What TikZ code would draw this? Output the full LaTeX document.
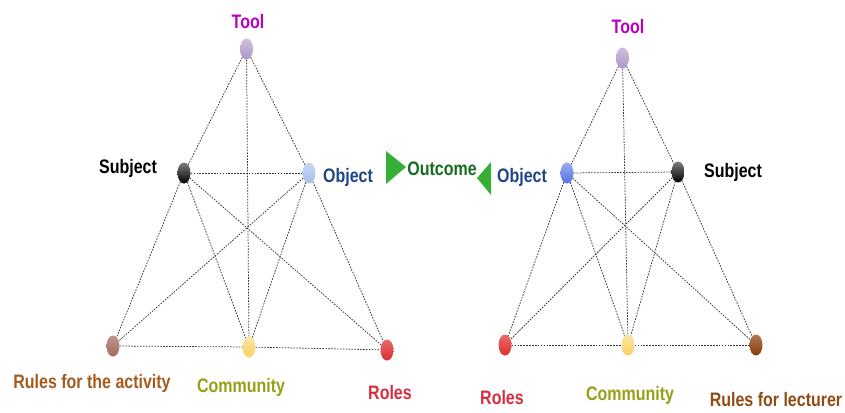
\documentclass[tikz,border=0pt]{standalone}
\usepackage{fontspec}
\setmainfont[FakeStretch=0.82]{Liberation Sans}
\usetikzlibrary{shapes.geometric}
\definecolor{ctool}{RGB}{185,0,190}
\definecolor{cobj}{RGB}{30,70,135}
\definecolor{cout}{RGB}{20,110,30}
\definecolor{crulesa}{RGB}{165,90,30}
\definecolor{ccomm}{RGB}{150,160,20}
\definecolor{croles}{RGB}{215,45,65}
\definecolor{crulesl}{RGB}{145,75,20}
\definecolor{ftool}{RGB}{175,150,200}
\definecolor{fobjl}{RGB}{165,190,235}
\definecolor{fobjr}{RGB}{85,115,230}
\definecolor{frulesa}{RGB}{165,105,95}
\definecolor{fcomm}{RGB}{250,210,100}
\definecolor{froles}{RGB}{220,45,45}
\definecolor{frulesl}{RGB}{140,60,10}
\definecolor{fgreen}{RGB}{55,175,55}
\definecolor{edgec}{RGB}{50,50,50}
\tikzset{
  dot/.style={ellipse, inner sep=0pt, minimum width=13pt, minimum height=21pt},
  lab/.style={font=\fontsize{19.5}{21}\selectfont\bfseries, inner sep=0pt},
  link/.style={draw=edgec, line width=0.75pt, dash pattern=on 1.6pt off 1.3pt},
  arrowtri/.style={fill=fgreen, draw=none}
}
\begin{document}
\begin{tikzpicture}[x=1pt,y=-1pt]
\path[use as bounding box] (0,0) rectangle (845,412);
% ---------- left triangle ----------
\node[dot, top color=ftool!60!white, bottom color=ftool] (lT) at (246.5,49) {};
\node[dot, top color=gray, bottom color=black] (lS) at (184,173) {};
\node[dot, top color=fobjl!60!white, bottom color=fobjl] (lO) at (309,173) {};
\node[dot, top color=frulesa!70!white, bottom color=frulesa] (lR) at (113,346) {};
\node[dot, top color=fcomm!60!white, bottom color=fcomm] (lC) at (249,347) {};
\node[dot, top color=froles!70!white, bottom color=froles] (lRo) at (387,350) {};
\draw[link] (lT) -- (lS);
\draw[link] (lT) -- (lO);
\draw[link] (lT) -- (lC);
\draw[link] (lS) -- (lO);
\draw[link] (lS) -- (lR);
\draw[link] (lS) -- (lC);
\draw[link] (lS) -- (lRo);
\draw[link] (lO) -- (lR);
\draw[link] (lO) -- (lC);
\draw[link] (lO) -- (lRo);
\draw[link] (lR) -- (lC);
\draw[link] (lC) -- (lRo);
\node[lab, text=ctool] (lTl) at (248,22) {Tool};
\node[lab, text=black] (lSl) at (128,168) {Subject};
\node[lab, text=cobj] (lOl) at (348,177) {Object};
\node[lab, text=crulesa] (lRl) at (92,383) {Rules for the activity};
\node[lab, text=ccomm] (lCl) at (241,387) {Community};
\node[lab, text=croles] (lRol) at (390,393) {Roles};
% ---------- middle ----------
\node[lab, text=cout] (out) at (442,169) {Outcome};
\fill[fgreen] (386,151) -- (386,184) -- (406,167) -- cycle;
\fill[fgreen] (491,162) -- (491,195) -- (477,178) -- cycle;
% ---------- right triangle ----------
\node[dot, top color=ftool!60!white, bottom color=ftool] (rT) at (622.5,58) {};
\node[dot, top color=fobjr!60!white, bottom color=fobjr] (rO) at (567,173) {};
\node[dot, top color=gray, bottom color=black] (rS) at (678,172) {};
\node[dot, top color=froles!70!white, bottom color=froles] (rRo) at (505,345) {};
\node[dot, top color=fcomm!60!white, bottom color=fcomm] (rC) at (628,345) {};
\node[dot, top color=frulesl!70!white, bottom color=frulesl] (rR) at (756,345) {};
\draw[link] (rT) -- (rO);
\draw[link] (rT) -- (rS);
\draw[link] (rT) -- (rC);
\draw[link] (rO) -- (rS);
\draw[link] (rO) -- (rRo);
\draw[link] (rO) -- (rC);
\draw[link] (rO) -- (rR);
\draw[link] (rS) -- (rRo);
\draw[link] (rS) -- (rC);
\draw[link] (rS) -- (rR);
\draw[link] (rRo) -- (rC);
\draw[link] (rC) -- (rR);
\node[lab, text=ctool] (rTl) at (628,27) {Tool};
\node[lab, text=cobj] (rOl) at (522,177) {Object};
\node[lab, text=black] (rSl) at (733,172) {Subject};
\node[lab, text=croles] (rRol) at (502,398) {Roles};
\node[lab, text=ccomm] (rCl) at (630,395) {Community};
\node[lab, text=crulesl] (rRl) at (776,400) {Rules for lecturer};
\end{tikzpicture}
\end{document}
